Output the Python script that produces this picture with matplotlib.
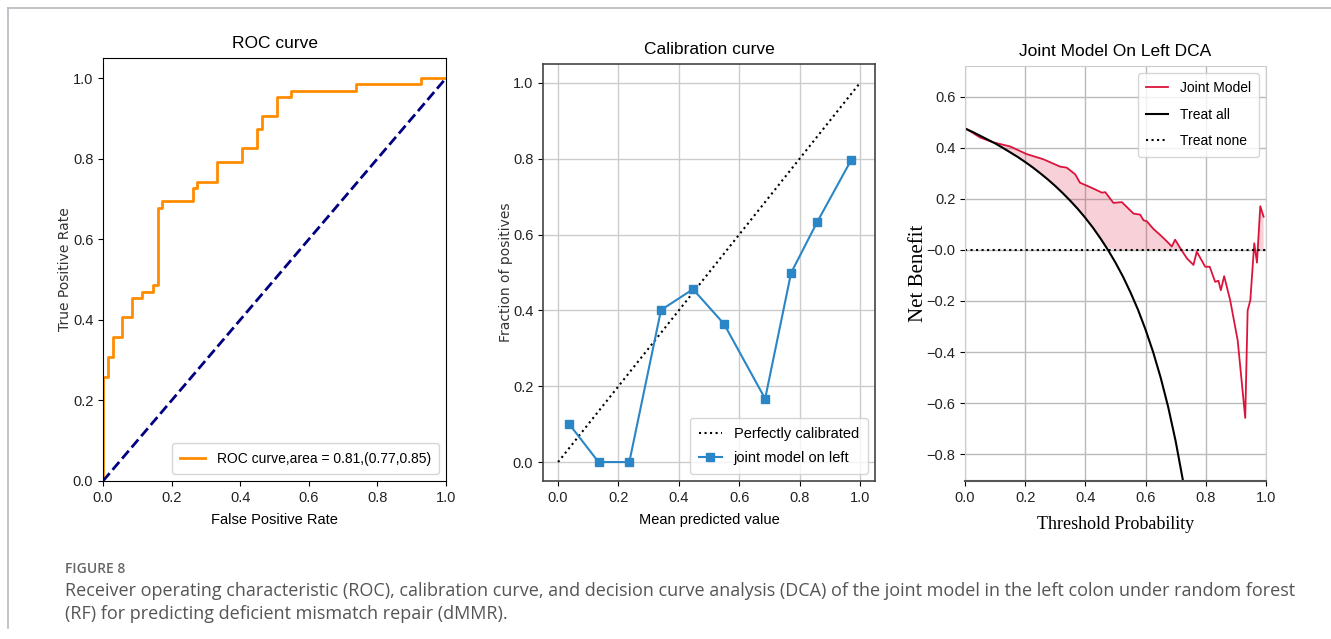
import numpy as np
import matplotlib.pyplot as plt
from matplotlib.lines import Line2D

# ROC curve vertices
roc_fpr = [0.0, 0.0, 0.015, 0.015, 0.028, 0.028, 0.056, 0.056, 0.086, 0.086,
           0.115, 0.115, 0.145, 0.145, 0.159, 0.159, 0.172, 0.172, 0.261, 0.261,
           0.274, 0.274, 0.332, 0.332, 0.406, 0.406, 0.449, 0.449, 0.463, 0.463,
           0.507, 0.507, 0.549, 0.549, 0.739, 0.739, 0.928, 0.928, 1.0]
roc_tpr = [0.0, 0.259, 0.259, 0.307, 0.307, 0.357, 0.357, 0.407, 0.407, 0.454,
           0.454, 0.468, 0.468, 0.486, 0.486, 0.678, 0.678, 0.695, 0.695, 0.728,
           0.728, 0.743, 0.743, 0.792, 0.792, 0.826, 0.826, 0.873, 0.873, 0.905,
           0.905, 0.952, 0.952, 0.968, 0.968, 0.985, 0.985, 1.0, 1.0]
roc_label = "ROC curve,area = 0.81,(0.77,0.85)"

# calibration curve
cal_pred = [0.037, 0.134, 0.236, 0.341, 0.447, 0.550, 0.686, 0.772, 0.859, 0.972]
cal_frac = [0.100, 0.000, 0.000, 0.401, 0.456, 0.364, 0.167, 0.499, 0.634, 0.798]

# decision curve: joint model
dca_t = [0.0, 0.006, 0.05, 0.094, 0.15, 0.205, 0.26, 0.316, 0.338, 0.366,
         0.382, 0.421, 0.455, 0.466, 0.493, 0.521, 0.560, 0.582, 0.593, 0.604,
         0.626, 0.648, 0.671, 0.687, 0.698, 0.715, 0.737, 0.759, 0.770, 0.798,
         0.813, 0.831, 0.842, 0.850, 0.861, 0.881, 0.906, 0.931, 0.939, 0.948,
         0.961, 0.970, 0.981, 0.992]
dca_model = [0.476, 0.473, 0.440, 0.421, 0.405, 0.375, 0.355, 0.326, 0.322, 0.296,
             0.263, 0.243, 0.224, 0.226, 0.184, 0.187, 0.142, 0.138, 0.116, 0.112,
             0.082, 0.059, 0.033, 0.013, 0.040, 0.007, -0.033, -0.059, -0.007, -0.066,
             -0.066, -0.125, -0.121, -0.158, -0.103, -0.197, -0.355, -0.658, -0.237, -0.197,
             0.026, -0.050, 0.171, 0.130]

# decision curve: treat all
all_t = [0.0, 0.025, 0.05, 0.075, 0.10, 0.125, 0.15, 0.175, 0.20, 0.225,
         0.25, 0.275, 0.30, 0.325, 0.35, 0.375, 0.40, 0.425, 0.45, 0.475,
         0.50, 0.525, 0.55, 0.575, 0.60, 0.625, 0.65, 0.675, 0.70, 0.725]
all_nb = [0.475, 0.462, 0.447, 0.432, 0.417, 0.400, 0.382, 0.364, 0.344, 0.323,
          0.300, 0.276, 0.250, 0.222, 0.192, 0.160, 0.125, 0.087, 0.045, 0.000,
          -0.050, -0.105, -0.167, -0.235, -0.313, -0.400, -0.500, -0.615, -0.750, -0.909]

caption_head = "FIGURE 8"
caption_lines = [
    "Receiver operating characteristic (ROC), calibration curve, and decision curve analysis (DCA) of the joint model in the left colon under random forest",
    "(RF) for predicting deficient mismatch repair (dMMR).",
]

narrow = 'Liberation Sans'
W, H = 1331, 639
fig = plt.figure(figsize=(W / 100, H / 100), dpi=100)
fig.patch.set_facecolor('white')


def box(l, t, r, b):
    return [l / W, 1 - b / H, (r - l) / W, (b - t) / H]


def style_ticks(ax):
    for lab in ax.get_xticklabels() + ax.get_yticklabels():
        lab.set_family(narrow)
        lab.set_fontsize(10.5)
        lab.set_color('#222222')


# frame lines around figure
fig.add_artist(Line2D([8 / W, 1], [1 - 8 / H, 1 - 8 / H], color='#b8b8c0', lw=1.2))
fig.add_artist(Line2D([8 / W, 8 / W], [1 - 8 / H, 1 - 628 / H], color='#b8b8c0', lw=1.2))

# --- ROC ---
ax1 = fig.add_axes(box(103, 58, 446, 481))
ax1.plot(roc_fpr, roc_tpr, color='darkorange', lw=2, label=roc_label)
ax1.plot([0, 1], [0, 1], color='navy', lw=2, linestyle='--')
ax1.set_xlim(0, 1)
ax1.set_ylim(0, 1.05)
ax1.set_xticks(np.arange(0, 1.01, 0.2))
ax1.set_yticks(np.arange(0, 1.01, 0.2))
ax1.set_title("ROC curve", family=narrow, fontsize=12.5, pad=7)
ax1.set_xlabel("False Positive Rate", family=narrow, fontsize=10.5, labelpad=6)
ax1.set_ylabel("True Positive Rate", fontsize=10, color='#333333')
ax1.yaxis.set_label_coords(-0.09, 0.5)
ax1.legend(loc='lower right', prop={'family': narrow, 'size': 10},
           handlelength=1.8, borderpad=0.6)
style_ticks(ax1)

# --- calibration ---
ax2 = fig.add_axes(box(543, 64, 875, 481))
ax2.plot([0, 1], [0, 1], 'k:', label='Perfectly calibrated')
ax2.plot(cal_pred, cal_frac, 's-', color='#2a86c6', label='joint model on left')
ax2.set_xlim(-0.05, 1.05)
ax2.set_ylim(-0.05, 1.05)
ax2.set_xticks(np.arange(0, 1.01, 0.2))
ax2.set_yticks(np.arange(0, 1.01, 0.2))
ax2.grid(True, color='#cccccc', lw=1)
ax2.set_axisbelow(True)
ax2.set_title("Calibration curve", family=narrow, fontsize=12.5, pad=7)
ax2.set_xlabel("Mean predicted value", family=narrow, fontsize=10.5, labelpad=6)
ax2.set_ylabel("Fraction of positives", fontsize=10, color='#333333')
ax2.yaxis.set_label_coords(-0.09, 0.5)
ax2.legend(loc='lower right', prop={'family': narrow, 'size': 10.5},
           handlelength=1.6, borderpad=0.6, labelspacing=0.7)
for s in ax2.spines.values():
    s.set_color('#444444')
    s.set_linewidth(1.2)
style_ticks(ax2)

# --- DCA ---
ax3 = fig.add_axes(box(965, 66, 1266, 481))
t = np.array(dca_t)
m = np.array(dca_model)
base = np.maximum(np.interp(t, all_t, all_nb, right=-1), 0)
ax3.fill_between(t, m, base, where=m > base, interpolate=True,
                 color='crimson', alpha=0.2, lw=0)
ax3.plot(t, m, color='crimson', lw=1.3, label='Joint Model')
ax3.plot(all_t, all_nb, color='black', lw=1.5, label='Treat all')
ax3.plot([0, 1], [0, 0], color='black', linestyle=':', lw=1.5, label='Treat none')
ax3.set_xlim(0, 1)
ax3.set_ylim(-0.905, 0.72)
ax3.set_xticks(np.arange(0, 1.01, 0.2))
ax3.set_yticks(np.arange(-0.8, 0.61, 0.2))
ax3.grid(True, color='#bbbbbb', lw=1)
ax3.set_axisbelow(True)
for s in ax3.spines.values():
    s.set_color('#cccccc')
ax3.spines['bottom'].set_color('#555555')
ax3.spines['bottom'].set_linewidth(1.5)
ax3.set_title("Joint Model On Left DCA", family=narrow, fontsize=12.5, pad=7)
ax3.set_xlabel("Threshold Probability", family='Liberation Serif', fontsize=13, labelpad=8)
ax3.set_ylabel("Net Benefit", family='Liberation Serif', fontsize=15)
ax3.yaxis.set_label_coords(-0.123, 0.5)
ax3.legend(loc='upper right', prop={'family': narrow, 'size': 10},
           handlelength=1.6, borderpad=0.6, labelspacing=0.9)
style_ticks(ax3)
ax3.set_yticklabels([f"{v:.1f}".replace('-', '\u2212') for v in np.arange(-0.8, 0.61, 0.2)])
for lab in ax3.get_yticklabels():
    lab.set_family(narrow)
    lab.set_fontsize(10.5)

# caption
fig.text(65 / W, 1 - 569 / H, caption_head, family='Open Sans', fontsize=10,
         fontweight='semibold', color='#666666', va='center')
for i, line in enumerate(caption_lines):
    fig.text(65 / W, 1 - (591 + 23 * i) / H, line, family='Open Sans', fontsize=13,
             color='#555555', va='center')

fig.savefig('out.png', dpi=100)
